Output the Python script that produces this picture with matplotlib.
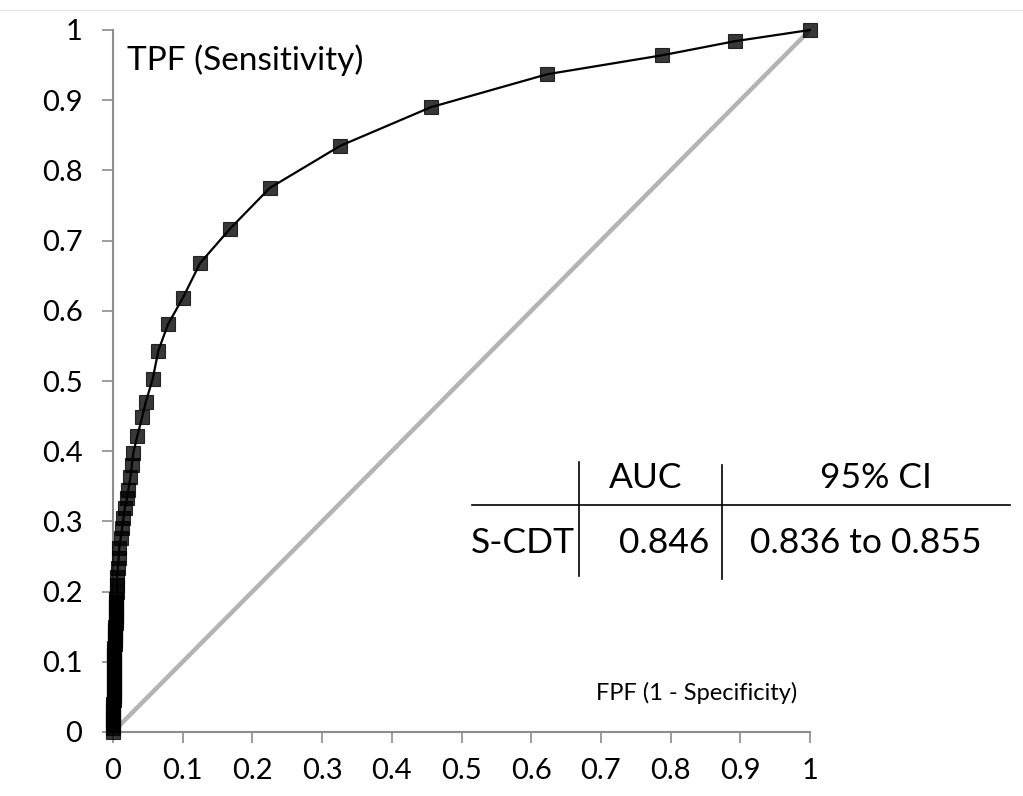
import numpy as np
import matplotlib.pyplot as plt
from matplotlib.lines import Line2D

# ROC points (the lower part is a dense pile of markers)
fpf = [0.000, 0.000, 0.000, 0.000, 0.000, 0.000, 0.000, 0.000, 0.000, 0.001,
       0.001, 0.001, 0.001, 0.001, 0.001, 0.001, 0.001, 0.001, 0.002, 0.002,
       0.002, 0.002, 0.002, 0.002, 0.002, 0.003, 0.003, 0.003, 0.003, 0.003,
       0.003, 0.004, 0.004, 0.004, 0.004, 0.004, 0.005, 0.005, 0.005, 0.006,
       0.006, 0.006, 0.007, 0.008, 0.009, 0.011, 0.013, 0.015, 0.017,
       0.020, 0.022, 0.025, 0.027, 0.029, 0.035, 0.042, 0.047, 0.057, 0.065,
       0.079, 0.100, 0.125, 0.168, 0.225, 0.326, 0.456, 0.623, 0.788, 0.892,
       1.000]
tpf = [0.000, 0.005, 0.010, 0.015, 0.020, 0.025, 0.030, 0.035, 0.040, 0.045,
       0.050, 0.055, 0.060, 0.065, 0.070, 0.075, 0.080, 0.085, 0.090, 0.095,
       0.100, 0.105, 0.110, 0.115, 0.120, 0.125, 0.130, 0.135, 0.140, 0.145,
       0.150, 0.155, 0.160, 0.165, 0.170, 0.175, 0.180, 0.185, 0.190, 0.200,
       0.210, 0.221, 0.234, 0.248, 0.262, 0.276, 0.290, 0.305, 0.319,
       0.333, 0.345, 0.363, 0.380, 0.397, 0.422, 0.449, 0.470, 0.503, 0.543,
       0.581, 0.618, 0.668, 0.717, 0.775, 0.835, 0.890, 0.937, 0.964, 0.984,
       1.000]
chance = [0, 1]
ticks = [0, 0.1, 0.2, 0.3, 0.4, 0.5, 0.6, 0.7, 0.8, 0.9, 1]
tick_labels = ['0', '0.1', '0.2', '0.3', '0.4', '0.5', '0.6', '0.7', '0.8', '0.9', '1']

col_head = ['AUC', '95% CI']
row_name = 'S-CDT'
auc = '0.846'
ci = '0.836 to 0.855'

plt.rcParams['font.family'] = ['Lato', 'DejaVu Sans']

W, H = 1023, 796
fig = plt.figure(figsize=(W / 100, H / 100), dpi=100)
ax = fig.add_axes([113 / W, 64 / H, (810 - 113) / W, (732 - 30) / H])

ax.plot(chance, chance, color='#b4b4b4', lw=3.2, zorder=1)
ax.plot(fpf, tpf, color='black', lw=1.6, zorder=3, clip_on=False)
ax.plot(fpf, tpf, 's', markersize=9.5, color='black', alpha=0.78,
        markeredgewidth=0.8, zorder=4, clip_on=False)

ax.set_xlim(0, 1)
ax.set_ylim(0, 1)
ax.set_xticks(ticks)
ax.set_xticklabels(tick_labels)
ax.set_yticks(ticks)
ax.set_yticklabels(tick_labels)
for s in ['top', 'right']:
    ax.spines[s].set_visible(False)
for s in ['left', 'bottom']:
    ax.spines[s].set_color('#8c8c8c')
    ax.spines[s].set_linewidth(1.5)
ax.tick_params(direction='out', length=8, width=1.2, color='#8c8c8c',
               labelsize=21)
ax.tick_params(axis='y', pad=14)
ax.tick_params(axis='x', pad=11)

ax.text(0.02, 0.957, 'TPF (Sensitivity)', fontsize=24, va='center', ha='left',
        transform=ax.transAxes)
ax.text(0.981, 0.056, 'FPF (1 - Specificity)', fontsize=17, va='center', ha='right',
        transform=ax.transAxes)

# small table drawn in figure pixels
def fx(px):
    return px / W

def fy(py):
    return 1 - py / H

fig.add_artist(Line2D([fx(472), fx(1010)], [fy(505), fy(505)], color='black', lw=1.2))
fig.add_artist(Line2D([fx(579), fx(579)], [fy(462), fy(576)], color='black', lw=1.2))
fig.add_artist(Line2D([fx(722), fx(722)], [fy(465), fy(579)], color='black', lw=1.2))
fs = 25.5
fig.text(fx(646), fy(478), col_head[0], fontsize=fs, ha='center', va='center')
fig.text(fx(876), fy(478), col_head[1], fontsize=fs, ha='center', va='center')
fig.text(fx(471), fy(543), row_name, fontsize=fs, ha='left', va='center')
fig.text(fx(709), fy(543), auc, fontsize=fs, ha='right', va='center')
fig.text(fx(866), fy(543), ci, fontsize=fs, ha='center', va='center')

fig.add_artist(Line2D([0, 1], [fy(10), fy(10)], color='#e6e6e6', lw=1))

fig.savefig('out.png', dpi=100)
